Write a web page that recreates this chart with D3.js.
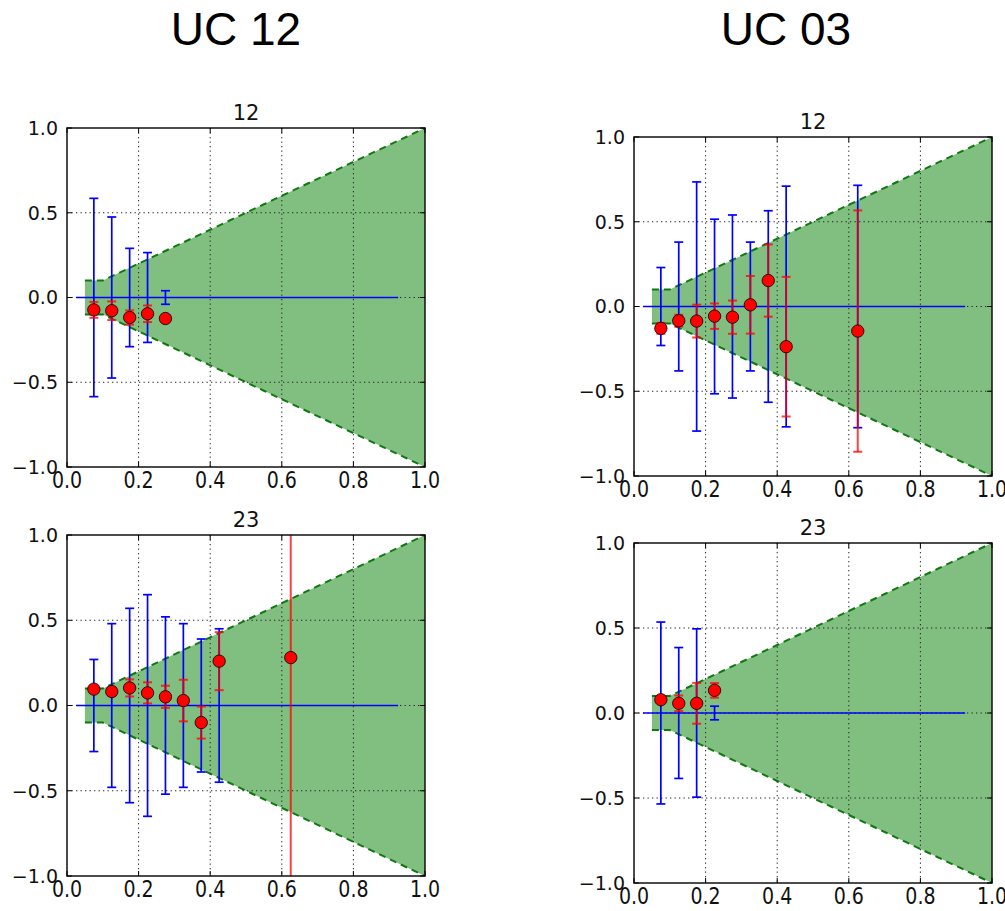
<!DOCTYPE html>
<html>
<head>
<meta charset="utf-8">
<script src="https://cdn.jsdelivr.net/npm/d3@7"></script>
<style>
  html, body { margin: 0; padding: 0; background: #fff; }
  svg { display: block; }
</style>
</head>
<body>
<svg id="fig" width="1005" height="911"></svg>
<script>
// Column headers
const columnTitles = ["UC 12", "UC 03"];
const panelTitles = ["12", "23"];

// Axis ticks
const xTicks = [0.0, 0.2, 0.4, 0.6, 0.8, 1.0];
const yTicks = [-1.0, -0.5, 0.0, 0.5, 1.0];

// Acceptance band (bin edges and its half-width)
const bandX     = [0.05, 0.10, 0.15, 0.20, 0.25, 0.30, 0.35, 0.40, 0.45, 0.50, 0.55, 0.60, 0.65, 0.70, 0.75, 0.80, 0.85, 0.90, 0.95, 1.00];
const bandUpper = [0.10, 0.10, 0.15, 0.20, 0.25, 0.30, 0.35, 0.40, 0.45, 0.50, 0.55, 0.60, 0.65, 0.70, 0.75, 0.80, 0.85, 0.90, 0.95, 1.00];
const bandLower = [-0.10, -0.10, -0.15, -0.20, -0.25, -0.30, -0.35, -0.40, -0.45, -0.50, -0.55, -0.60, -0.65, -0.70, -0.75, -0.80, -0.85, -0.90, -0.95, -1.00];

// Reference line at zero
const zeroLineX = [0.025, 0.925];

// UC 12, pair 12
const uc12_12_x    = [0.075, 0.125, 0.175, 0.225, 0.275];
const uc12_12_mean = [-0.073, -0.078, -0.118, -0.096, -0.124];
const uc12_12_err  = [0.047, 0.055, 0.042, 0.049, 0.0];
const uc12_12_spread = [0.585, 0.475, 0.29, 0.265, 0.04];

// UC 03, pair 12
const uc03_12_x    = [0.075, 0.125, 0.175, 0.225, 0.275, 0.325, 0.375, 0.425, 0.625];
const uc03_12_mean = [-0.129, -0.084, -0.086, -0.057, -0.063, 0.01, 0.153, -0.237, -0.145];
const uc03_12_err  = [0.032, 0.035, 0.097, 0.075, 0.098, 0.17, 0.213, 0.412, 0.712];
const uc03_12_spread = [0.23, 0.38, 0.735, 0.515, 0.54, 0.38, 0.565, 0.71, 0.715];

// UC 12, pair 23
const uc12_23_x    = [0.075, 0.125, 0.175, 0.225, 0.275, 0.325, 0.375, 0.425, 0.625];
const uc12_23_mean = [0.096, 0.082, 0.103, 0.074, 0.051, 0.029, -0.1, 0.26, 0.281];
const uc12_23_err  = [0.02, 0.024, 0.05, 0.062, 0.065, 0.122, 0.094, 0.17, 2.0];
const uc12_23_spread = [0.27, 0.48, 0.57, 0.65, 0.52, 0.48, 0.39, 0.45, null];

// UC 03, pair 23
const uc03_23_x    = [0.075, 0.125, 0.175, 0.225];
const uc03_23_mean = [0.078, 0.057, 0.057, 0.133];
const uc03_23_err  = [0.015, 0.046, 0.12, 0.043];
const uc03_23_spread = [0.535, 0.385, 0.495, 0.04];

const panels = [
  { title: panelTitles[0], box: [67, 128, 425, 467], x: uc12_12_x, mean: uc12_12_mean, err: uc12_12_err, spread: uc12_12_spread },
  { title: panelTitles[0], box: [634, 137, 992, 476], x: uc03_12_x, mean: uc03_12_mean, err: uc03_12_err, spread: uc03_12_spread },
  { title: panelTitles[1], box: [67, 535, 425, 876], x: uc12_23_x, mean: uc12_23_mean, err: uc12_23_err, spread: uc12_23_spread },
  { title: panelTitles[1], box: [634, 543, 992, 883], x: uc03_23_x, mean: uc03_23_mean, err: uc03_23_err, spread: uc03_23_spread },
];

const svg = d3.select("#fig");
svg.append("rect").attr("width", 1005).attr("height", 911).attr("fill", "#fff");

// Column headers
const headerX = [236, 786];
columnTitles.forEach((t, i) => {
  svg.append("text")
    .attr("x", headerX[i]).attr("y", 45)
    .attr("text-anchor", "middle")
    .attr("font-family", "Liberation Sans, Arial, sans-serif")
    .attr("font-size", 46)
    .attr("fill", "#000")
    .text(t);
});

const fmt = d3.format(".1f");
const CAP = 4.5;

panels.forEach((p, pi) => {
  const [x0, y0, x1, y1] = p.box;
  const x = d3.scaleLinear().domain([0, 1]).range([x0, x1]);
  const y = d3.scaleLinear().domain([-1, 1]).range([y1, y0]);
  const g = svg.append("g");

  const clipId = "clip" + pi;
  svg.append("clipPath").attr("id", clipId)
    .append("rect").attr("x", x0).attr("y", y0).attr("width", x1 - x0).attr("height", y1 - y0);
  const plot = g.append("g").attr("clip-path", `url(#${clipId})`);

  // Band fill
  const band = bandX.map((bx, i) => ({ x: bx, lo: bandLower[i], hi: bandUpper[i] }));
  plot.append("path")
    .datum(band)
    .attr("d", d3.area().x(d => x(d.x)).y0(d => y(d.lo)).y1(d => y(d.hi)))
    .attr("fill", "#80bf80");

  // Band edges
  [d => d.hi, d => d.lo].forEach(acc => {
    plot.append("path")
      .datum(band)
      .attr("d", d3.line().x(d => x(d.x)).y(d => y(acc(d))))
      .attr("fill", "none")
      .attr("stroke", "#107810")
      .attr("stroke-width", 2)
      .attr("stroke-dasharray", "7,5");
  });

  // Grid
  const grid = plot.append("g")
    .attr("stroke", "#222").attr("stroke-width", 1).attr("stroke-dasharray", "1.3,3.2");
  xTicks.filter(t => t > 0 && t < 1).forEach(t => {
    grid.append("line").attr("x1", x(t)).attr("x2", x(t)).attr("y1", y0).attr("y2", y1);
  });
  yTicks.filter(t => t > -1 && t < 1).forEach(t => {
    grid.append("line").attr("y1", y(t)).attr("y2", y(t)).attr("x1", x0).attr("x2", x1);
  });

  // Zero reference line
  plot.append("line")
    .attr("x1", x(zeroLineX[0])).attr("x2", x(zeroLineX[1]))
    .attr("y1", y(0)).attr("y2", y(0))
    .attr("stroke", "#0000ff").attr("stroke-width", 1.7);

  const pts = p.x.map((xv, i) => ({ x: xv, m: p.mean[i], e: p.err[i], s: p.spread[i] }));

  // Spread bars around zero
  const blue = plot.append("g").attr("stroke", "#0000ff").attr("stroke-width", 1.7).attr("fill", "none");
  pts.filter(d => d.s != null && d.s > 0).forEach(d => {
    const cx = x(d.x);
    blue.append("line").attr("x1", cx).attr("x2", cx).attr("y1", y(d.s)).attr("y2", y(-d.s));
    blue.append("line").attr("x1", cx - CAP).attr("x2", cx + CAP).attr("y1", y(d.s)).attr("y2", y(d.s));
    blue.append("line").attr("x1", cx - CAP).attr("x2", cx + CAP).attr("y1", y(-d.s)).attr("y2", y(-d.s));
  });

  // Mean error bars
  const red = plot.append("g").attr("stroke", "#ff0000").attr("stroke-opacity", 0.75).attr("stroke-width", 2).attr("fill", "none");
  pts.filter(d => d.e > 0).forEach(d => {
    const cx = x(d.x);
    red.append("line").attr("x1", cx).attr("x2", cx).attr("y1", y(d.m + d.e)).attr("y2", y(d.m - d.e));
    red.append("line").attr("x1", cx - CAP).attr("x2", cx + CAP).attr("y1", y(d.m + d.e)).attr("y2", y(d.m + d.e));
    red.append("line").attr("x1", cx - CAP).attr("x2", cx + CAP).attr("y1", y(d.m - d.e)).attr("y2", y(d.m - d.e));
  });

  // Means
  plot.append("g").selectAll("circle")
    .data(pts).join("circle")
    .attr("cx", d => x(d.x)).attr("cy", d => y(d.m))
    .attr("r", 6.2)
    .attr("fill", "#ff0000").attr("stroke", "#000").attr("stroke-width", 0.8);

  // Frame
  g.append("rect")
    .attr("x", x0).attr("y", y0).attr("width", x1 - x0).attr("height", y1 - y0)
    .attr("fill", "none").attr("stroke", "#111").attr("stroke-width", 1.5);

  // Inward ticks on all sides
  const ticks = g.append("g").attr("stroke", "#000").attr("stroke-width", 1);
  xTicks.forEach(t => {
    ticks.append("line").attr("x1", x(t)).attr("x2", x(t)).attr("y1", y1).attr("y2", y1 - 5);
    ticks.append("line").attr("x1", x(t)).attr("x2", x(t)).attr("y1", y0).attr("y2", y0 + 5);
  });
  yTicks.forEach(t => {
    ticks.append("line").attr("y1", y(t)).attr("y2", y(t)).attr("x1", x0).attr("x2", x0 + 5);
    ticks.append("line").attr("y1", y(t)).attr("y2", y(t)).attr("x1", x1).attr("x2", x1 - 5);
  });

  // Tick labels
  const lab = g.append("g")
    .attr("font-family", "DejaVu Sans, sans-serif")
    .attr("font-size", 19)
    .attr("fill", "#111");
  xTicks.forEach(t => {
    lab.append("text")
      .attr("transform", `translate(${x(t)},${y1 + 21}) scale(1,1.25)`)
      .attr("text-anchor", "middle").text(fmt(t));
  });
  yTicks.forEach(t => {
    lab.append("text").attr("x", x0 - 9).attr("y", y(t)).attr("dy", "0.36em")
      .attr("text-anchor", "end").text(fmt(t));
  });

  // Panel title
  g.append("text")
    .attr("x", (x0 + x1) / 2).attr("y", y0 - 8)
    .attr("text-anchor", "middle")
    .attr("font-family", "DejaVu Sans, sans-serif")
    .attr("font-size", 21)
    .attr("fill", "#111")
    .text(p.title);
});
</script>
</body>
</html>
